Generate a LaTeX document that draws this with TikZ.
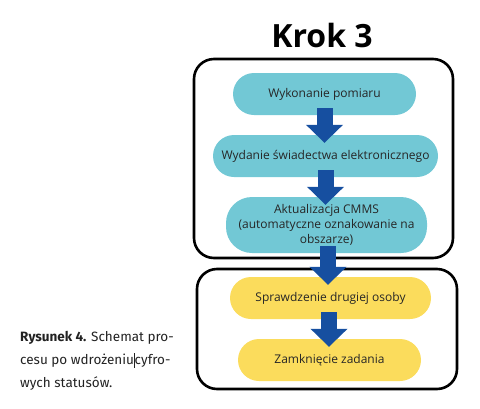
\documentclass[tikz,border=0pt]{standalone}
\usepackage{fontspec}
\setmainfont{Open Sans}
\newfontfamily\capfont{Fira Sans}
\usetikzlibrary{arrows.meta}
\definecolor{stepteal}{HTML}{72C8D5}
\definecolor{stepyellow}{HTML}{FBDC5C}
\definecolor{steparrow}{HTML}{164FA0}
\definecolor{captext}{HTML}{222222}
\tikzset{
  frame/.style={draw=black, line width=2.6pt, rounded corners=20pt},
  pill/.style={rectangle, rounded corners=21pt, minimum height=42pt, inner sep=0pt,
    align=center, font=\fontsize{12}{15}\selectfont, text=black!85},
  tealpill/.style={pill, fill=stepteal},
  yellowpill/.style={pill, fill=stepyellow},
  blockarrow/.style={draw=steparrow, line width=16pt,
    -{Triangle[width=36pt,length=18pt]}, shorten <=-7pt, shorten >=-8pt}
}
\begin{document}
\begin{tikzpicture}[x=1pt,y=-1pt]
\useasboundingbox (0,0) rectangle (480,408);
\node[font=\bfseries\fontsize{32}{36}\selectfont] (title) at (322,35) {Krok 3};
\node[frame, minimum width=259pt, minimum height=199pt] (boxA) at (323.5,158.5) {};
\node[frame, minimum width=260pt, minimum height=120pt] (boxB) at (327,329) {};
\node[tealpill, minimum width=183pt] (n1) at (324.5,94) {Wykonanie pomiaru};
\node[tealpill, minimum width=225pt] (n2) at (325.5,156) {Wydanie świadectwa elektronicznego};
\node[tealpill, minimum width=201pt, minimum height=56pt, rounded corners=26pt] (n3) at (326.5,225) {Aktualizacja CMMS\\(automatyczne oznakowanie na\\obszarze)};
\node[yellowpill, minimum width=201pt] (n4) at (330.5,298) {Sprawdzenie drugiej osoby};
\node[yellowpill, minimum width=183pt] (n5) at (329.5,360) {Zamknięcie zadania};
\coordinate (x3) at (328,0);
\coordinate (x4) at (329,0);
\draw[blockarrow] (n1.south) -- (n1.south |- n2.north);
\draw[blockarrow] (n2.south) -- (n2.south |- n3.north);
\draw[blockarrow] (x3 |- n3.south) -- (x3 |- n4.north);
\draw[blockarrow] (x4 |- n4.south) -- (x4 |- n5.north);
\node[anchor=north west, align=left, inner sep=0pt, text=captext,
  font=\capfont\fontsize{13.5}{23}\selectfont] (caption) at (20,331)
  {\textbf{Rysunek 4.} Schemat pro-\\cesu po wdrożeniu\rule[-0.25em]{0.7pt}{1.1em}cyfro-\\wych statusów.};
\end{tikzpicture}
\end{document}
